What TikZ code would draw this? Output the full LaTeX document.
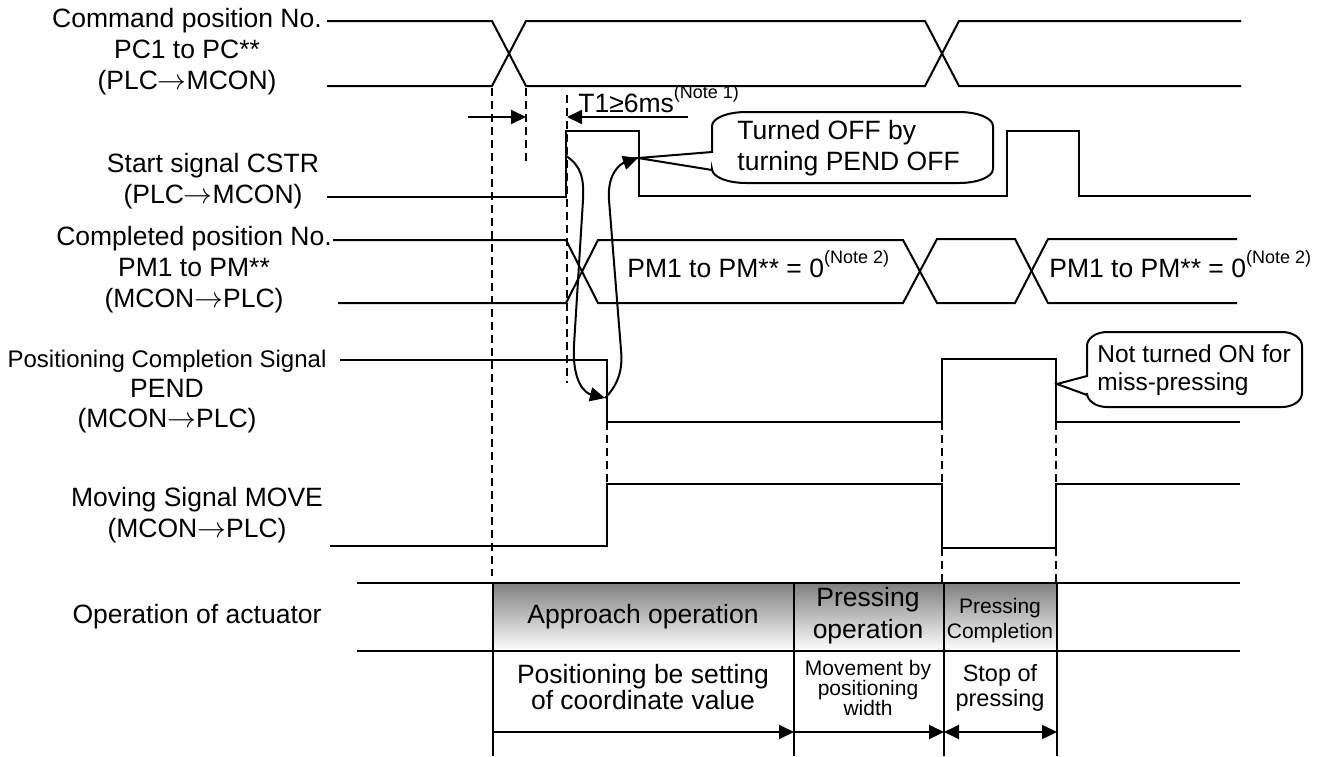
\documentclass[tikz,border=0pt]{standalone}
\usepackage{fontspec}
\setmainfont{Liberation Sans}
\usetikzlibrary{arrows.meta}
\definecolor{ink}{HTML}{000000}
\definecolor{shade}{HTML}{DEDEDE}
\newcommand{\basefont}{\fontsize{13.25}{15.5}\selectfont}
\newcommand{\tagfont}{\fontsize{12.25}{14}\selectfont}
\newcommand{\cellfont}{\fontsize{11.75}{12.5}\selectfont}
\newcommand{\tinyfont}{\fontsize{10.5}{10}\selectfont}
\newcommand{\notefont}{\fontsize{9}{9}\selectfont}
\newcommand{\note}[1]{\raisebox{0.5em}{\notefont(Note #1)}}
\newcommand{\ra}{$\rightarrow$}

\begin{document}
\begin{tikzpicture}[x=0.5pt, y=-0.5pt,
    every node/.style={font=\basefont, text=ink, inner sep=0pt},
    wave/.style={draw=ink, line width=1pt},
    guide/.style={draw=ink, line width=0.9pt, dash pattern=on 4pt off 2.5pt},
    lbl/.style={align=center},
    tag/.style={align=left, anchor=west},
    arr/.style={-{Triangle[length=7.5pt, width=7pt]}, draw=ink, line width=1pt},
    dbl/.style={{Triangle[length=7.5pt, width=7pt]}-{Triangle[length=7.5pt, width=7pt]}, draw=ink, line width=1pt},
  ]
  \useasboundingbox (0,0) rectangle (1321,756);

  % signal names on the left
  \node[lbl] (cmd) at (187,52) {Command position No.\\PC1 to PC**\\(PLC\ra MCON)};
  \node[lbl] (cstr) at (213,181) {Start signal CSTR\\(PLC\ra MCON)};
  \node[lbl] (pmno) at (194,270) {Completed position No.\\PM1 to PM**\\(MCON\ra PLC)};
  \node[lbl, font=\fontsize{12}{15}\selectfont] (pend) at (167,392) {Positioning Completion Signal\\\fontsize{13.25}{15}\selectfont PEND\\\fontsize{13.25}{15}\selectfont (MCON\ra PLC)};
  \node[lbl] (move) at (197,515) {Moving Signal MOVE\\(MCON\ra PLC)};
  \node[lbl] (oper) at (197,617) {Operation of actuator};

  % command position (bus)
  \draw[wave] (327,21) -- (492,21) -- (526,86) -- (925,86) -- (959,21) -- (1241,21);
  \draw[wave] (327,86) -- (492,86) -- (526,21) -- (925,21) -- (959,86) -- (1241,86);

  % start signal
  \draw[wave] (327,197) -- (566,197) -- (566,131) -- (639,131) -- (639,196)
    -- (1007,196) -- (1007,131) -- (1079,131) -- (1079,196) -- (1251,196);

  % completed position (bus)
  \draw[wave] (333,240) -- (566,240) -- (598,303) -- (903,303) -- (937,239)
    -- (1015,239) -- (1048,303) -- (1237,303);
  \draw[wave] (338,303) -- (566,303) -- (598,240) -- (903,240) -- (937,303)
    -- (1015,303) -- (1048,239) -- (1237,239);
  \node[anchor=base west] (pmzero) at (627,277) {PM1 to PM** = 0\note{2}};
  \node[anchor=base west] (pmzerob) at (1049,277) {PM1 to PM** = 0\note{2}};

  % positioning completion
  \draw[wave] (340,360) -- (607,360) -- (607,422) -- (942,422) -- (942,359)
    -- (1056,359) -- (1056,422) -- (1240,422);

  % moving signal
  \draw[wave] (330,546) -- (607,546) -- (607,484) -- (942,484) -- (942,548)
    -- (1056,548) -- (1056,484) -- (1240,484);

  % dashed guides
  \draw[guide] (492,88) -- (492,576);
  \draw[guide] (526,88) -- (526,163);
  \draw[guide] (567,95) -- (567,383);
  \foreach \x in {607,942,1056}
    \draw[guide] (\x,422) -- (\x,484);
  \foreach \x in {942,1056}
    \draw[guide] (\x,548) -- (\x,583);

  % T1 timing
  \coordinate (cmdset) at (526,117);
  \coordinate (cstrset) at (567,117);
  \draw[arr] (468,117) -- (cmdset);
  \draw[arr] (688,117) -- (cstrset);
  \node[anchor=base west] (t1) at (578,112) {T1≥6ms\note{1}};

  % handshake arrows
  \coordinate (cstron) at (566,156);
  \coordinate (pendoff) at (605,398);
  \coordinate (cstroff) at (638,158);
  \draw[arr] (cstron) .. controls (582,166) and (584,180) .. (583,200)
    -- (574,345) .. controls (572,382) and (585,393) .. (pendoff);
  \draw[arr] (pendoff) .. controls (618,385) and (623,370) .. (621,350)
    -- (609,200) .. controls (607,174) and (620,164) .. (cstroff);

  % callouts
  \draw[wave] (712,152) -- (712,126) arc[start angle=180, end angle=90, x radius=17pt, y radius=7pt]
    -- (959,112) arc[start angle=90, end angle=0, x radius=17pt, y radius=7pt]
    -- (993,169) arc[start angle=0, end angle=-90, x radius=17pt, y radius=7pt]
    -- (746,183) arc[start angle=270, end angle=180, x radius=17pt, y radius=7pt]
    -- (712,170) -- (cstroff) -- cycle;
  \node[tag] (offmsg) at (737,148) {Turned OFF by\\turning PEND OFF};

  \coordinate (pendrise) at (1057,384);
  \draw[wave] (1087,376) -- (1087,346) arc[start angle=180, end angle=90, x radius=10pt, y radius=7pt]
    -- (1282,332) arc[start angle=90, end angle=0, x radius=10pt, y radius=7pt]
    -- (1302,393) arc[start angle=0, end angle=-90, x radius=10pt, y radius=7pt]
    -- (1107,407) arc[start angle=270, end angle=180, x radius=10pt, y radius=7pt]
    -- (1087,395) -- (pendrise) -- cycle;
  \node[tag, font=\tagfont] (missmsg) at (1097,370) {Not turned ON for\\miss-pressing};

  % actuator operation table
  \fill[shade] (493,583) rectangle (1057,651);
  \draw[wave] (357,583) -- (1240,583);
  \draw[wave] (357,651) -- (1240,651);
  \foreach \x in {493,794,944,1057}
    \draw[wave] (\x,583) -- (\x,756);

  \node[lbl] (approach) at (643,617) {Approach operation};
  \node[lbl, font=\fontsize{13.25}{16}\selectfont] (pressop) at (868,616) {Pressing\\operation};
  \node[lbl, font=\fontsize{10.5}{12.5}\selectfont] (presscomp) at (1000,621) {Pressing\\Completion};
  \node[lbl, font=\fontsize{13.25}{13}\selectfont] (posset) at (643,687) {Positioning be setting\\of coordinate value};
  \node[lbl, font=\tinyfont] (moveby) at (868,688) {Movement by\\positioning\\width};
  \node[lbl, font=\cellfont] (stopof) at (1000,688) {Stop of\\pressing};

  \coordinate (a0) at (493,732);
  \coordinate (a1) at (794,732);
  \coordinate (a2) at (944,732);
  \coordinate (a3) at (1057,732);
  \draw[arr] (a0) -- (a1);
  \draw[arr] (a1) -- (a2);
  \draw[dbl] (a2) -- (a3);
\end{tikzpicture}
\end{document}
